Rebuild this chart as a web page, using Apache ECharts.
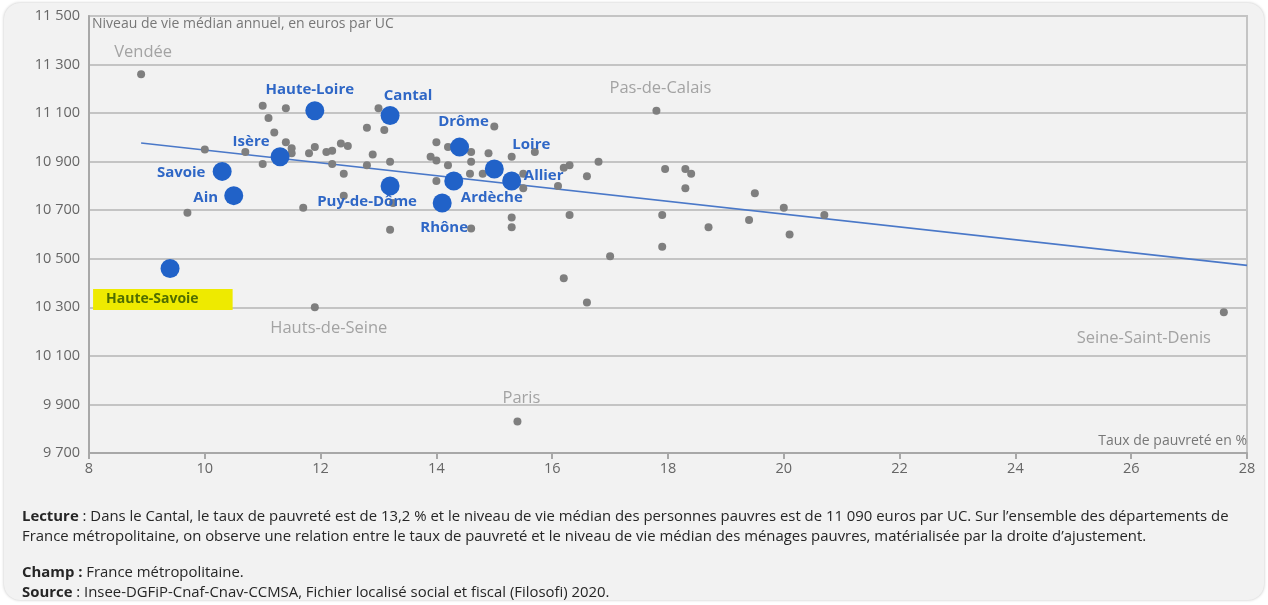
<!DOCTYPE html>
<html lang="fr">
<head>
<meta charset="utf-8">
<title>Taux de pauvreté et niveau de vie médian des personnes pauvres</title>
<script src="https://cdn.jsdelivr.net/npm/echarts@6/dist/echarts.min.js"></script>
<style>
  html, body { margin: 0; padding: 0; background: #ffffff; }
  #panel {
    position: absolute; left: 4px; top: 3px; width: 1260px; height: 597px;
    background: #f2f2f2; border-radius: 16px;
    box-shadow: 0 0 3px rgba(0,0,0,0.25);
  }
  #chart { position: absolute; left: 0; top: 0; width: 1268px; height: 605px; }
</style>
</head>
<body>
<div id="panel"></div>
<div id="chart"></div>
<script>
// Départements sans étiquette : taux de pauvreté (%) et niveau de vie médian (euros par UC)
const otherX = [9.7, 10.0, 10.7, 11.0, 11.4, 11.1, 11.2, 11.4, 11.5, 11.5, 11.0, 11.7, 11.9, 11.8,
  12.1, 12.2, 12.35, 12.47, 12.2, 12.4, 12.4, 12.8, 13.0, 13.1, 12.9, 13.2, 12.8, 13.25, 13.2,
  14.0, 14.2, 13.9, 14.0, 14.2, 14.0, 14.6, 14.6, 14.58, 14.8, 14.9, 15.0, 15.3, 15.7, 15.5, 15.5,
  15.3, 15.3, 14.6, 16.1, 16.2, 16.3, 16.8, 16.6, 16.3, 17.0, 16.2, 16.6,
  17.95, 18.3, 18.4, 18.3, 17.9, 17.9, 18.7, 19.4, 19.5, 20.0, 20.1, 20.7];
const otherY = [10690, 10950, 10940, 11130, 11120, 11080, 11020, 10980, 10955, 10935, 10890, 10710, 10960, 10935,
  10940, 10945, 10975, 10965, 10890, 10850, 10760, 11040, 11120, 11030, 10930, 10900, 10885, 10730, 10620,
  10980, 10960, 10920, 10905, 10885, 10820, 10940, 10900, 10850, 10850, 10935, 11045, 10920, 10940, 10850, 10790,
  10670, 10630, 10625, 10800, 10875, 10885, 10900, 10840, 10680, 10510, 10420, 10320,
  10870, 10870, 10850, 10790, 10680, 10550, 10630, 10660, 10770, 10710, 10600, 10680];

// Départements extrêmes, étiquetés en gris
const extremeNames = ['Vendée', 'Pas-de-Calais', 'Hauts-de-Seine', 'Paris', 'Seine-Saint-Denis'];
const extremeX = [8.9, 17.8, 11.9, 15.4, 27.6];
const extremeY = [11260, 11110, 10300, 9830, 10280];

// Départements d'Auvergne-Rhône-Alpes
const araNames = ['Haute-Savoie', 'Ain', 'Savoie', 'Isère', 'Haute-Loire', 'Cantal', 'Puy-de-Dôme',
  'Drôme', 'Ardèche', 'Rhône', 'Loire', 'Allier'];
const araX = [9.4, 10.5, 10.3, 11.3, 11.9, 13.2, 13.2, 14.4, 14.3, 14.1, 15.0, 15.3];
const araY = [10460, 10760, 10860, 10920, 11110, 11090, 10800, 10960, 10820, 10730, 10870, 10820];

// Droite d'ajustement (extrémités)
const trendX = [8.9, 28];
const trendY = [10977, 10473];

// Graduations
const xTicks = { min: 8, max: 28, step: 2 };
const yTicks = { min: 9700, max: 11500, step: 200 };

// Placement des étiquettes (décalage en pixels par rapport au point)
const extremeOffsets = {
  'Vendée': [2, -22], 'Pas-de-Calais': [4, -22], 'Hauts-de-Seine': [14, 21],
  'Paris': [4, -23], 'Seine-Saint-Denis': [-80, 26]
};
const araOffsets = {
  'Ain': [-28, 2], 'Savoie': [-41, 1], 'Isère': [-29, -15], 'Haute-Loire': [-5, -21],
  'Cantal': [18, -20], 'Puy-de-Dôme': [-23, 16], 'Drôme': [4, -25], 'Ardèche': [38, 17],
  'Rhône': [2, 25], 'Loire': [37, -24], 'Allier': [32, -5]
};

const FONT = '"Open Sans", "DejaVu Sans", sans-serif';
const BLUE = '#2162c8';
const BLUE_TEXT = '#2f67c6';
const GREY_DOT = '#7f7f7f';
const GREY_LABEL = '#a3a3a3';

const fmtThousands = v => String(v).replace(/\B(?=(\d{3})+(?!\d))/g, ' ');

const otherData = otherX.map((x, i) => [x, otherY[i]]);

const extremeData = extremeNames.map((n, i) => ({
  name: n,
  value: [extremeX[i], extremeY[i]],
  label: {
    show: true, position: 'inside', offset: extremeOffsets[n],
    formatter: n, color: GREY_LABEL, fontFamily: FONT, fontSize: 16.5
  }
}));

const araData = araNames.map((n, i) => {
  const item = { name: n, value: [araX[i], araY[i]] };
  if (n === 'Haute-Savoie') {
    item.label = {
      show: true, position: 'inside', offset: [-77, 31], align: 'left', verticalAlign: 'middle',
      formatter: n, color: '#4f6d00', fontFamily: FONT, fontSize: 14, fontWeight: 'bold',
      backgroundColor: '#eeea00', padding: [4, 34, 3, 13]
    };
  } else {
    item.label = {
      show: true, position: 'inside', offset: araOffsets[n],
      formatter: n, color: BLUE_TEXT, fontFamily: FONT, fontSize: 15, fontWeight: 'bold'
    };
  }
  return item;
});

const chart = echarts.init(document.getElementById('chart'), null, { renderer: 'canvas' });

chart.setOption({
  backgroundColor: 'transparent',
  animation: false,
  grid: {
    left: 89, right: 21, top: 16, bottom: 152,
    show: true, borderColor: '#c4c4c4', borderWidth: 2, backgroundColor: 'transparent'
  },
  xAxis: {
    type: 'value', min: xTicks.min, max: xTicks.max, interval: xTicks.step,
    axisLine: { show: true, onZero: false, lineStyle: { color: '#a8a8a8', width: 2 } },
    axisTick: { show: true, length: 6, lineStyle: { color: '#a8a8a8', width: 2 } },
    axisLabel: { color: '#666666', fontFamily: FONT, fontSize: 14.5, margin: 8 },
    splitLine: { show: false }
  },
  yAxis: {
    type: 'value', min: yTicks.min, max: yTicks.max, interval: yTicks.step,
    axisLine: { show: true, onZero: false, lineStyle: { color: '#a8a8a8', width: 2 } },
    axisTick: { show: false },
    axisLabel: { color: '#666666', fontFamily: FONT, fontSize: 14.5, margin: 9, formatter: fmtThousands },
    splitLine: { show: true, lineStyle: { color: '#c4c4c4', width: 2 } }
  },
  series: [
    {
      type: 'line', data: trendX.map((x, i) => [x, trendY[i]]),
      showSymbol: false, symbol: 'none', z: 1, silent: true,
      lineStyle: { color: '#4a78c8', width: 1.6 }
    },
    {
      type: 'scatter', data: otherData, symbolSize: 8, z: 2,
      itemStyle: { color: GREY_DOT, opacity: 1 }
    },
    {
      type: 'scatter', data: extremeData, symbolSize: 8, z: 2,
      itemStyle: { color: GREY_DOT, opacity: 1 }
    },
    {
      type: 'scatter', data: araData, symbolSize: 19, z: 3,
      itemStyle: { color: BLUE, opacity: 1 }
    }
  ],
  graphic: [
    {
      type: 'text', left: 92, top: 17, silent: true,
      style: { text: 'Niveau de vie médian annuel, en euros par UC', fill: '#777777', font: '14px ' + FONT }
    },
    {
      type: 'text', right: 21, top: 434, silent: true,
      style: { text: 'Taux de pauvreté en %', fill: '#777777', font: '14px ' + FONT }
    },
    {
      type: 'text', left: 22, top: 507, silent: true,
      style: {
        text: '{b|Lecture} : Dans le Cantal, le taux de pauvreté est de 13,2 % et le niveau de vie médian des personnes pauvres est de 11 090 euros par UC. Sur l’ensemble des départements de\nFrance métropolitaine, on observe une relation entre le taux de pauvreté et le niveau de vie médian des ménages pauvres, matérialisée par la droite d’ajustement.',
        fill: '#262626', font: '14.9px ' + FONT, lineHeight: 20,
        rich: { b: { fontWeight: 'bold', fontFamily: FONT, fontSize: 14.9, fill: '#262626' } }
      }
    },
    {
      type: 'text', left: 22, top: 563, silent: true,
      style: {
        text: '{b|Champ :} France métropolitaine.\n{b|Source} : Insee-DGFiP-Cnaf-Cnav-CCMSA, Fichier localisé social et fiscal (Filosofi) 2020.',
        fill: '#262626', font: '14.9px ' + FONT, lineHeight: 20,
        rich: { b: { fontWeight: 'bold', fontFamily: FONT, fontSize: 14.9, fill: '#262626' } }
      }
    }
  ]
});
</script>
</body>
</html>
